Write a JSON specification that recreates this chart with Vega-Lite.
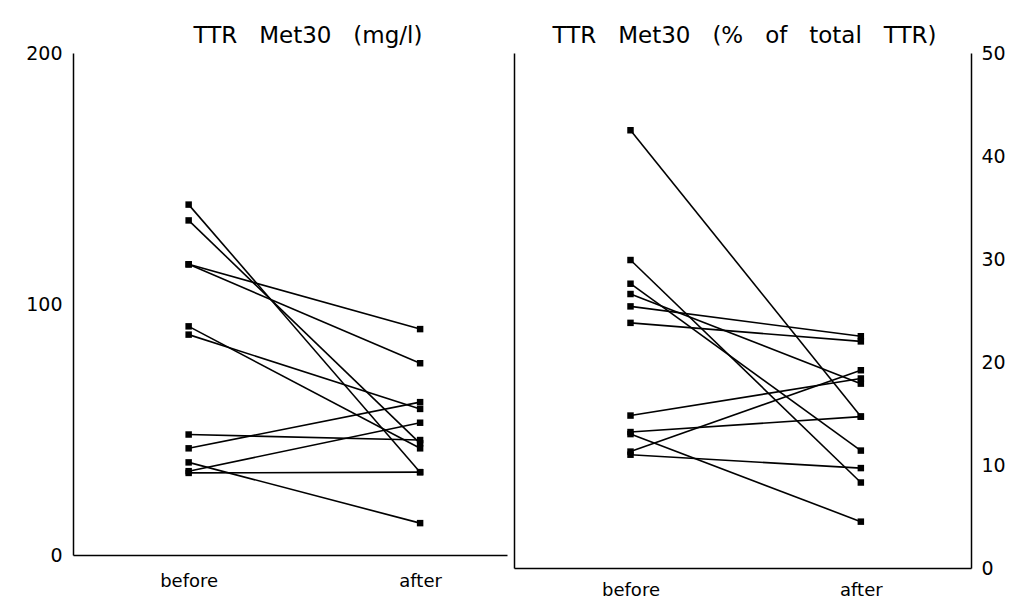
{
  "$schema": "https://vega.github.io/schema/vega-lite/v6.json",
  "background": "white",
  "padding": {"left": 25, "top": 25, "right": 5, "bottom": 5},
  "spacing": 7,
  "config": {
    "view": {"stroke": null},
    "font": "DejaVu Sans",
    "axis": {"domainColor": "black", "domainWidth": 1.5, "ticks": false, "tickSize": 0, "grid": false, "labelColor": "black", "labelFont": "DejaVu Sans", "title": null},
    "title": {"fontSize": 23, "font": "DejaVu Sans", "fontWeight": "normal", "color": "black", "offset": -4, "frame": "group"}
  },
  "datasets": {
    "mg": [
      {"id": "A", "phase": "before", "value": 139.6}, {"id": "A", "phase": "after", "value": 33.0},
      {"id": "B", "phase": "before", "value": 133.3}, {"id": "B", "phase": "after", "value": 44.5},
      {"id": "C", "phase": "before", "value": 115.8}, {"id": "C", "phase": "after", "value": 90.0},
      {"id": "D", "phase": "before", "value": 115.8}, {"id": "D", "phase": "after", "value": 76.4},
      {"id": "E", "phase": "before", "value": 91.1}, {"id": "E", "phase": "after", "value": 42.5},
      {"id": "F", "phase": "before", "value": 87.8}, {"id": "F", "phase": "after", "value": 58.2},
      {"id": "G", "phase": "before", "value": 48.0}, {"id": "G", "phase": "after", "value": 45.8},
      {"id": "H", "phase": "before", "value": 42.5}, {"id": "H", "phase": "after", "value": 60.9},
      {"id": "I", "phase": "before", "value": 36.9}, {"id": "I", "phase": "after", "value": 12.7},
      {"id": "J", "phase": "before", "value": 33.4}, {"id": "J", "phase": "after", "value": 52.7},
      {"id": "K", "phase": "before", "value": 32.7}, {"id": "K", "phase": "after", "value": 33.0}
    ],
    "pct": [
      {"id": "1", "phase": "before", "value": 42.5}, {"id": "1", "phase": "after", "value": 14.7},
      {"id": "2", "phase": "before", "value": 29.9}, {"id": "2", "phase": "after", "value": 8.3},
      {"id": "3", "phase": "before", "value": 27.6}, {"id": "3", "phase": "after", "value": 11.4},
      {"id": "4", "phase": "before", "value": 26.6}, {"id": "4", "phase": "after", "value": 17.9},
      {"id": "5", "phase": "before", "value": 25.4}, {"id": "5", "phase": "after", "value": 22.5},
      {"id": "6", "phase": "before", "value": 23.8}, {"id": "6", "phase": "after", "value": 22.0},
      {"id": "7", "phase": "before", "value": 14.8}, {"id": "7", "phase": "after", "value": 18.4},
      {"id": "8", "phase": "before", "value": 13.2}, {"id": "8", "phase": "after", "value": 14.7},
      {"id": "9", "phase": "before", "value": 13.0}, {"id": "9", "phase": "after", "value": 4.5},
      {"id": "10", "phase": "before", "value": 11.3}, {"id": "10", "phase": "after", "value": 19.2},
      {"id": "11", "phase": "before", "value": 11.0}, {"id": "11", "phase": "after", "value": 9.7}
    ]
  },
  "hconcat": [
    {
      "width": 434,
      "height": 502,
      "title": {"text": "TTR\u00a0\u00a0\u00a0Met30\u00a0\u00a0\u00a0(mg/l)", "dx": 18},
      "data": {"name": "mg"},
      "encoding": {
        "x": {"field": "phase", "type": "nominal", "sort": ["before", "after"], "scale": {"type": "point", "domain": ["before", "after"], "padding": 0.4375, "align": 0.571}, "axis": {"labelAngle": 0, "labelFontSize": 18, "labelPadding": 17}},
        "y": {"field": "value", "type": "quantitative", "scale": {"domain": [0, 200], "nice": false, "zero": true}, "axis": {"values": [0, 100, 200], "labelFontSize": 19, "labelPadding": 11}}
      },
      "layer": [
        {"mark": {"type": "line", "color": "black", "strokeWidth": 1.6}, "encoding": {"detail": {"field": "id"}}},
        {"mark": {"type": "square", "filled": true, "color": "black", "size": 42, "opacity": 1}, "encoding": {}}
      ]
    },
    {
      "width": 457,
      "height": 515,
      "title": {"text": "TTR\u00a0\u00a0\u00a0Met30\u00a0\u00a0\u00a0(%\u00a0\u00a0\u00a0of\u00a0\u00a0\u00a0total\u00a0\u00a0\u00a0TTR)", "dx": 2},
      "data": {"name": "pct"},
      "encoding": {
        "x": {"field": "phase", "type": "nominal", "sort": ["before", "after"], "scale": {"type": "point", "domain": ["before", "after"], "padding": 0.492, "align": 0.514}, "axis": {"labelAngle": 0, "labelFontSize": 18, "labelPadding": 13}}
      },
      "layer": [
        {"mark": {"type": "line", "color": "black", "strokeWidth": 1.6},
         "encoding": {"detail": {"field": "id"},
           "y": {"field": "value", "type": "quantitative", "scale": {"domain": [0, 50], "nice": false, "zero": true}, "axis": {"orient": "right", "values": [0, 10, 20, 30, 40, 50], "labelFontSize": 19, "labelPadding": 10}}}},
        {"mark": {"type": "square", "filled": true, "color": "black", "size": 42, "opacity": 1},
         "encoding": {
           "y": {"field": "value", "type": "quantitative", "scale": {"domain": [0, 50], "nice": false, "zero": true}, "axis": {"orient": "left", "labels": false, "domain": true}}}}
      ],
      "resolve": {"axis": {"y": "independent"}}
    }
  ]
}
